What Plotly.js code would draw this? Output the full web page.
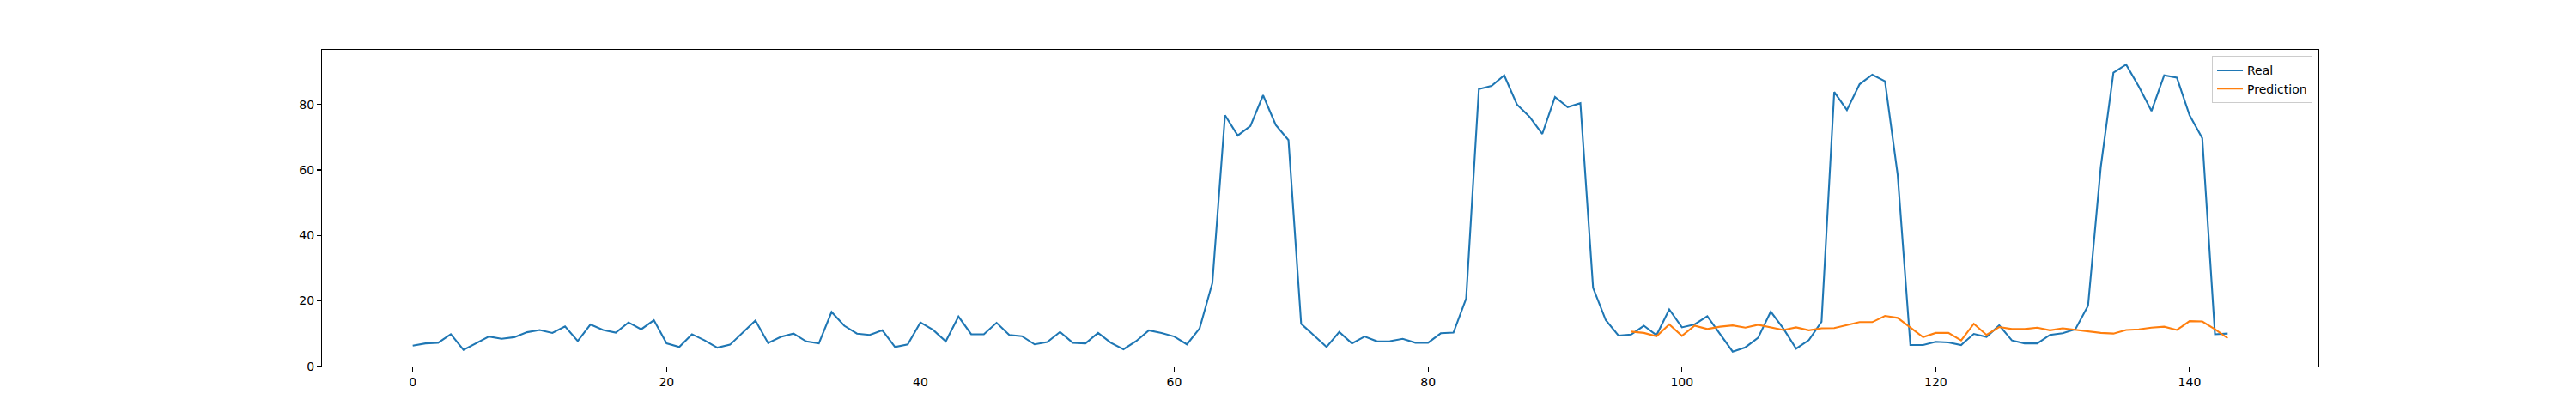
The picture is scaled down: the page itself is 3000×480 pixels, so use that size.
<!DOCTYPE html>
<html>
<head>
<meta charset="utf-8">
<script src="https://cdn.plot.ly/plotly-3.0.1.min.js"></script>
<style>
  html, body { margin: 0; padding: 0; background: #fff; }
  #plot { width: 3000px; height: 480px; }
</style>
</head>
<body>
<div id="plot"></div>
<script>
// Values

let real = [
  6.3, 7.0, 7.2, 9.8, 5.0, 7.0, 9.1, 8.4, 8.9, 10.4,
  11.1, 10.2, 12.2, 7.7, 12.8, 11.1, 10.3, 13.4, 11.3, 14.1,
  7.0, 5.9, 9.8, 7.9, 5.7, 6.6, 10.3, 14.0, 7.1, 9.0,
  10.0, 7.6, 7.0, 16.6, 12.4, 10.0, 9.6, 11.0, 5.9, 6.7,
  13.4, 11.1, 7.6, 15.2, 9.8, 9.8, 13.3, 9.6, 9.2, 6.7,
  7.4, 10.5, 7.2, 7.0, 10.2, 7.2, 5.2, 7.7, 11.0, 10.2,
  9.1, 6.7, 11.6, 25.4, 76.7, 70.5, 73.4, 82.8, 73.7, 69.1,
  13.0, 9.4, 5.9, 10.5, 7.0, 9.1, 7.6, 7.7, 8.4, 7.2,
  7.2, 10.1, 10.3, 20.7, 84.7, 85.7, 88.9, 80.0, 76.2, 71.0,
  82.3, 79.2, 80.4, 24.0, 14.1, 9.4, 9.7, 12.4, 9.5, 17.4,
  11.9, 12.8, 15.3, 9.9, 4.5, 5.8, 8.7, 16.7, 11.5, 5.4,
  8.0, 13.6, 83.8, 78.3, 86.2, 89.1, 87.1, 58.5, 6.5, 6.5,
  7.5, 7.3, 6.5, 9.9, 9.0, 12.5, 7.9, 7.0, 7.0, 9.6,
  10.1, 11.3, 18.5, 60.8, 89.7, 92.2, 85.5, 78.0, 88.9, 88.2,
  76.7, 69.7, 9.8, 10.0
]

// prediction only covers the last part of the series
let pred_start = 96
let prediction = [
  10.6, 10.2, 9.2, 12.8,
  9.3, 12.4, 11.4, 12.1, 12.5, 11.8, 12.7, 12.0, 11.1, 11.9, 11.0, 11.6,
  11.7, 12.6, 13.5, 13.5, 15.4, 14.8, 11.8, 8.9,
  10.2, 10.2, 7.9, 13.0, 9.6, 12.0, 11.4, 11.4, 11.8, 11.0,
  11.6, 11.1, 10.5, 10.2, 10.0, 11.1, 11.3, 11.8, 12.1, 11.1,
  13.8, 13.7, 11.3, 8.6
]

let x_ticks = [0, 20, 40, 60, 80, 100, 120, 140]
let y_ticks = [0, 20, 40, 60, 80]

let plot_div = document.getElementById('plot')

let real_x = real.map((v, i) => i)
let pred_x = prediction.map((v, i) => pred_start + i)

let data = [
  {
    name : 'Real',
    x : real_x,
    y : real,
    type : 'scatter',
    mode : 'lines',
    line : {color : '#1f77b4', width : 2.1}
  },
  {
    name : 'Prediction',
    x : pred_x,
    y : prediction,
    type : 'scatter',
    mode : 'lines',
    line : {color : '#ff7f0e', width : 2.1}
  }
]

let axis_common = {
  showgrid : false,
  zeroline : false,
  showline : true,
  mirror : true,
  linecolor : '#000',
  linewidth : 1.1,
  ticks : 'outside',
  ticklen : 5,
  tickwidth : 1.1,
  tickcolor : '#000',
  tickfont : {family : 'DejaVu Sans', size : 14, color : '#000'}
}

let layout = {
  width : 3000,
  height : 480,
  margin : {l : 375, r : 300, t : 58, b : 53},
  paper_bgcolor : '#fff',
  plot_bgcolor : '#fff',
  font : {family : 'DejaVu Sans', size : 14, color : '#000'},
  showlegend : true,
  xaxis : Object.assign({}, axis_common, {
    range : [-7.15, 150.15],
    tickvals : x_ticks,
    ticktext : x_ticks.map(String)
  }),
  yaxis : Object.assign({}, axis_common, {
    range : [-0.05, 96.7],
    tickvals : y_ticks,
    ticktext : y_ticks.map(String)
  }),
  legend : {
    x : 0.997,
    y : 0.98,
    xanchor : 'right',
    yanchor : 'top',
    bgcolor : 'rgba(255,255,255,0.8)',
    bordercolor : '#cccccc',
    borderwidth : 1,
    itemwidth : 30,
    font : {family : 'DejaVu Sans', size : 14, color : '#000'}
  }
}

Plotly.newPlot(plot_div, data, layout, {staticPlot : true})
</script>
</body>
</html>
